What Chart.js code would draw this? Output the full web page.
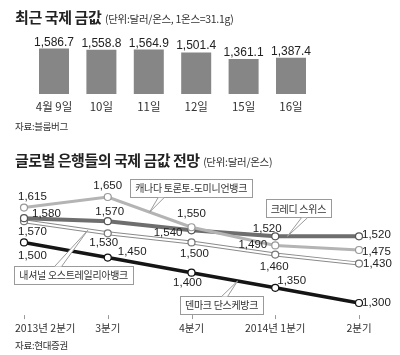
<!DOCTYPE html>
<html><head><meta charset="utf-8">
<script src="https://cdn.jsdelivr.net/npm/chart.js@4.4.1/dist/chart.umd.min.js"></script>
<style>
html,body{margin:0;padding:0;background:#fff;}
#wrap{position:relative;width:400px;height:355px;overflow:hidden;font-family:'Noto Sans CJK KR',sans-serif;color:#222;}
.t{position:absolute;white-space:nowrap;line-height:1;}
canvas{position:absolute;left:0;}
</style></head><body>
<div id="wrap">
<canvas id="c1" width="400" height="125" style="top:0;width:400px;height:125px"></canvas>
<canvas id="c2" width="400" height="190" style="top:165px;width:400px;height:190px"></canvas>
<div class="t" style="left:15px;top:8px"><b style="font-size:15px;letter-spacing:-0.4px">최근 국제 금값</b> <span style="font-size:10.5px;letter-spacing:-0.3px;color:#333">(단위:달러/온스, 1온스=31.1g)</span></div>
<div class="t" style="left:15px;top:122px;font-size:9.5px;color:#333;letter-spacing:-0.3px">자료:블룸버그</div>
<div class="t" style="left:15px;top:151px"><b style="font-size:15px;letter-spacing:-0.5px">글로벌 은행들의 국제 금값 전망</b> <span style="font-size:10.5px;letter-spacing:-0.3px;color:#333">(단위:달러/온스)</span></div>
<div class="t" style="left:15px;top:341px;font-size:9.5px;color:#333;letter-spacing:-0.3px">자료:현대증권</div>
</div>
<script>
// ---- data ----
const barDates = ['4월 9일', '10일', '11일', '12일', '15일', '16일'];
const barPrices = [1586.7, 1558.8, 1564.9, 1501.4, 1361.1, 1387.4];

const quarters = ['2013년 2분기', '3분기', '4분기', '2014년 1분기', '2분기'];
const canadaTD = [1615, 1650, 1550, 1490, 1475];
const creditSuisse = [1580, 1570, 1540, 1520, 1520];
const nationalAustralia = [1570, 1530, 1500, 1460, 1430];
const danskeBank = [1500, 1450, 1400, 1350, 1300];
const seriesNames = ['캐나다 토론토-도미니언뱅크', '크레디 스위스', '내셔널 오스트레일리아뱅크', '덴마크 단스케방크'];

// ---- style (label placement, relative to each point) ----
const labelPlacement = [
  [[-6,-11,'left'],[0,-11,'center'],[0,-13,'center'],[-8,-1,'right'],[3,2,'left']],
  [[8,-4,'left'],[2,-9,'center'],[-9,3,'right'],[-8,-8,'center'],[3,-2,'left']],
  [[-6,11,'left'],[-4,9,'center'],[3,11,'center'],[-1,12,'center'],[4,0,'left']],
  [[-6,13,'left'],[10,-6,'left'],[-4,10,'center'],[2,-7,'left'],[3,0,'left']]
];
const calloutPlacement = [
  {seg:1, t:0.5, dx:41.5, dy:-24, base:[-33,-27]},
  {seg:3, t:0.145, dx:11, dy:-28, base:[3,9]},
  {seg:0, t:0.76, dx:-14, dy:44.5, base:[-19,-12]},
  {seg:2, t:0.55, dx:-16, dy:24, base:[0,6]}
];
const xLabelPlacement = [[-9,'left'],[0,'center'],[0,'center'],[0,'center'],[0,'center']];

const KR = "'Noto Sans CJK KR', sans-serif";
const NUM = "'Liberation Sans', Arial, sans-serif";
const fmt1 = new Intl.NumberFormat('en-US', {minimumFractionDigits:1, maximumFractionDigits:1});
const fmt0 = new Intl.NumberFormat('en-US');

const barLabels = {
  id: 'barLabels',
  afterDatasetsDraw(chart) {
    const ctx = chart.ctx;
    const meta = chart.getDatasetMeta(0);
    ctx.save();
    ctx.font = '12px ' + NUM;
    ctx.fillStyle = '#222';
    ctx.textAlign = 'center';
    ctx.textBaseline = 'alphabetic';
    meta.data.forEach((bar, i) => {
      ctx.fillText(fmt1.format(chart.data.datasets[0].data[i]), bar.x, bar.y - 3);
    });
    ctx.restore();
  }
};

new Chart(document.getElementById('c1'), {
  type: 'bar',
  data: {labels: barDates, datasets: [{data: barPrices, backgroundColor: '#868686', barPercentage: 0.633, categoryPercentage: 1}]},
  options: {
    responsive: false, animation: false, events: [],
    plugins: {legend: {display: false}, tooltip: {enabled: false}},
    layout: {padding: {left: 30.3, right: 85.3, top: 29.5, bottom: 5.2}},
    scales: {
      x: {grid: {display: false, drawTicks: false}, border: {display: false},
          ticks: {padding: 6, color: '#333', font: {family: KR, size: 11.5}}},
      y: {display: false, min: 600, max: 2000}
    }
  },
  plugins: [barLabels]
});

const seriesData = [canadaTD, creditSuisse, nationalAustralia, danskeBank];
const seriesDataset = [0, 1, 3, 4];

const lineExtras = {
  id: 'lineExtras',
  afterDatasetsDraw(chart) {
    const ctx = chart.ctx;
    const area = chart.chartArea;
    const xs = chart.scales.x;
    ctx.save();
    ctx.font = '11.5px ' + NUM;
    ctx.fillStyle = '#222';
    ctx.textBaseline = 'middle';
    seriesData.forEach((arr, s) => {
      const meta = chart.getDatasetMeta(seriesDataset[s]);
      arr.forEach((v, i) => {
        const p = meta.data[i];
        const [dx, dy, al] = labelPlacement[s][i];
        ctx.textAlign = al;
        ctx.fillText(fmt0.format(v), p.x + dx, p.y + dy);
      });
    });
    ctx.font = '10px ' + KR;
    ctx.letterSpacing = '-0.3px';
    calloutPlacement.forEach((c, s) => {
      const meta = chart.getDatasetMeta(seriesDataset[s]);
      const a = meta.data[c.seg], b = meta.data[c.seg + 1];
      const tx = a.x + (b.x - a.x) * c.t, ty = a.y + (b.y - a.y) * c.t;
      const cx = tx + c.dx, cy = ty + c.dy;
      const w = ctx.measureText(seriesNames[s]).width + 10, h = 18;
      const left = cx - w / 2, top = cy - h / 2;
      ctx.fillStyle = '#fff';
      ctx.strokeStyle = '#9a9a9a';
      ctx.lineWidth = 1;
      ctx.fillRect(left, top, w, h);
      ctx.strokeRect(Math.round(left) + 0.5, Math.round(top) + 0.5, Math.round(w), Math.round(h));
      const edge = c.dy < 0 ? top + h + 0.5 : top + 0.5;
      ctx.beginPath();
      ctx.moveTo(cx + c.base[0], edge);
      ctx.lineTo(tx, ty);
      ctx.lineTo(cx + c.base[1], edge);
      ctx.closePath();
      ctx.fill();
      ctx.beginPath();
      ctx.moveTo(cx + c.base[0], edge);
      ctx.lineTo(tx, ty);
      ctx.lineTo(cx + c.base[1], edge);
      ctx.stroke();
      ctx.fillStyle = '#333';
      ctx.textAlign = 'center';
      ctx.textBaseline = 'middle';
      ctx.fillText(seriesNames[s], cx, cy + 0.5);
    });
    ctx.letterSpacing = '0px';
    ctx.font = '10.5px ' + KR;
    ctx.fillStyle = '#333';
    ctx.strokeStyle = '#999';
    ctx.lineWidth = 1;
    quarters.forEach((q, i) => {
      const x = xs.getPixelForValue(i);
      ctx.beginPath();
      ctx.moveTo(Math.round(x) + 0.5, area.bottom);
      ctx.lineTo(Math.round(x) + 0.5, area.bottom + 4);
      ctx.stroke();
      ctx.textAlign = xLabelPlacement[i][1];
      ctx.textBaseline = 'middle';
      ctx.fillText(q, x + xLabelPlacement[i][0], area.bottom + 13);
    });
    ctx.restore();
  }
};

const common = {tension: 0, clip: false, pointBackgroundColor: '#fff', pointBorderWidth: 1.2, pointRadius: 3.5};
new Chart(document.getElementById('c2'), {
  type: 'line',
  data: {
    labels: quarters,
    datasets: [
      Object.assign({}, common, {label: seriesNames[0], data: canadaTD, borderColor: '#b4b4b4', borderWidth: 3, pointBorderColor: '#999', order: 2}),
      Object.assign({}, common, {label: seriesNames[1], data: creditSuisse, borderColor: '#6e6e6e', borderWidth: 4, pointBorderColor: '#555', order: 3}),
      Object.assign({}, common, {label: seriesNames[2], data: nationalAustralia, borderColor: '#8a8a8a', borderWidth: 4, pointRadius: 0, order: 5}),
      Object.assign({}, common, {label: seriesNames[2], data: nationalAustralia, borderColor: '#ffffff', borderWidth: 2, pointBorderColor: '#777', order: 4}),
      Object.assign({}, common, {label: seriesNames[3], data: danskeBank, borderColor: '#151515', borderWidth: 3.5, pointBorderColor: '#111', order: 1})
    ]
  },
  options: {
    responsive: false, animation: false, events: [],
    plugins: {legend: {display: false}, tooltip: {enabled: false}},
    layout: {padding: {left: 24, right: 41, top: 22.9, bottom: 39.9}},
    scales: {x: {display: false}, y: {display: false, min: 1260, max: 1680}}
  },
  plugins: [lineExtras]
});
</script>
</body></html>
